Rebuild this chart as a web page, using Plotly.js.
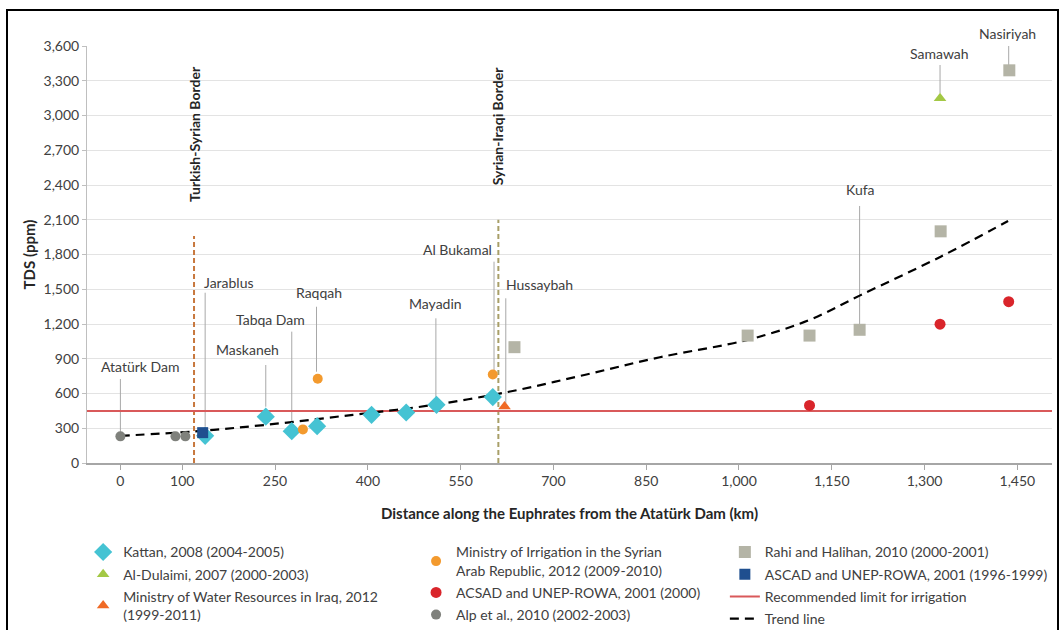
<!DOCTYPE html>
<html>
<head>
<meta charset="utf-8">
<script src="https://cdn.plot.ly/plotly-3.0.1.min.js"></script>
<style>
  html, body { margin: 0; padding: 0; background: #fff; }
  #wrap { position: relative; width: 1059px; height: 630px; overflow: hidden; }
  #chart { position: absolute; left: 0; top: 0; width: 1059px; height: 630px; }
  #frame { position: absolute; left: 6px; top: 9px; width: 1049px; height: 700px; border: 2.5px solid #000; pointer-events: none; z-index: 10; }
</style>
</head>
<body>
<div id="wrap"><div id="chart"></div><div id="frame"></div></div>
<script>
// ---- Data (distance along the Euphrates in km, TDS in ppm) ----
const kattanKm   = [137, 235, 277, 318, 406, 462, 511, 602];
const kattanTds  = [235, 400, 275, 318, 416, 436, 502, 569];

const dulaimiKm  = [1325];
const dulaimiTds = [3150];

const iraqMinKm  = [621];
const iraqMinTds = [488];

const syriaMinKm  = [295, 319, 602];
const syriaMinTds = [290, 727, 764];

const acsadKm  = [1114, 1325, 1436];
const acsadTds = [497, 1198, 1393];

const alpKm  = [0, 89, 105];
const alpTds = [230, 230, 230];

const rahiKm  = [637, 1014, 1114, 1195, 1326, 1437];
const rahiTds = [1000, 1100, 1100, 1150, 2000, 3390];

const ascadKm  = [133];
const ascadTds = [262];

const irrigationLimit = 450;

const trendKm  = [0, 117, 236, 376, 500, 630, 750, 872, 1014, 1114, 1195, 1326, 1435];
const trendTds = [235, 272, 330, 416, 497, 617, 760, 913, 1063, 1235, 1445, 1781, 2089];

const borderNames = ['Turkish-Syrian Border', 'Syrian-Iraqi Border'];
const borderKm    = [119, 611];
const borderTop   = [1960, 2100];

const xTickVals = [0, 100, 250, 400, 550, 700, 850, 1000, 1150, 1300, 1450];

// place labels with leader lines (label text, leader km, leader top/bottom TDS)
const placeNames  = ['Atatürk Dam', 'Jarablus', 'Maskaneh', 'Tabqa Dam', 'Raqqah', 'Mayadin', 'Al Bukamal', 'Hussaybah', 'Kufa', 'Samawah', 'Nasiriyah'];
const placeKm     = [0, 137, 235, 277, 317, 510, 604, 623, 1195, 1325, 1436];
const leaderTop   = [725, 1470, 846, 1134, 1349, 1249, 1738, 1422, 2219, 3436, 3630];
const leaderBot   = [259, 313, 486, 285, 788, 518, 803, 515, 1191, 3192, 3436];
// label text centres (layout positions; last one sits above the plot in paper units)
const labelX = [33, 176, 205, 243, 321, 509, 545, 677, 1196, 1324, 1434];
const labelY = [833, 1558, 977, 1236, 1476, 1373, 1839, 1537, 2362, 3537, 1.03];
const labelYRef = ['y', 'y', 'y', 'y', 'y', 'y', 'y', 'y', 'y', 'y', 'paper'];

// ---- Styling ----
const FONT = 'Lato, "Open Sans", sans-serif';
const TXT = '#404040';
const xRange = [-54, 1506];

const traces = [];

// border lines
borderKm.forEach((k, i) => {
  traces.push({
    x: [k, k], y: [0, borderTop[i]], mode: 'lines', showlegend: false, hoverinfo: 'skip',
    line: { color: i === 0 ? '#c8783e' : '#a89f68', width: 2, dash: '5px,3px' }
  });
});

// recommended limit
traces.push({
  x: xRange, y: [irrigationLimit, irrigationLimit], mode: 'lines',
  name: 'Recommended limit for irrigation', legend: 'legend3', legendrank: 3, legendgroup: 'g11',
  line: { color: '#d9595a', width: 2 }
});

// trend line
traces.push({
  x: trendKm, y: trendTds, mode: 'lines', line: { color: '#000', width: 2.2, dash: '9px,6px', shape: 'spline' },
  name: 'Trend line', legend: 'legend3', legendrank: 4, legendgroup: 'g12'
});

function pts(x, y, name, symbol, color, size, legend, rank) {
  return { x, y, mode: 'markers', type: 'scatter', name, legend, legendrank: rank, legendgroup: name,
    marker: { symbol, color, size, line: { width: 0 } }, cliponaxis: false };
}

traces.push(pts(alpKm, alpTds, 'Alp et al., 2010 (2002-2003)', 'circle', '#7f817c', 10, 'legend2', 3));
traces.push(pts(kattanKm, kattanTds, 'Kattan, 2008 (2004-2005)', 'diamond', '#45c3d3', 14, 'legend', 1));
traces.push(pts(ascadKm, ascadTds, 'ASCAD and UNEP-ROWA, 2001 (1996-1999)', 'square', '#1f4f8f', 11, 'legend3', 2));
traces.push(pts(syriaMinKm, syriaMinTds, 'Ministry of Irrigation in the Syrian<br>Arab Republic, 2012 (2009-2010)', 'circle', '#f39a2e', 10, 'legend2', 1));
traces.push(pts(iraqMinKm, iraqMinTds, 'Ministry of Water Resources in Iraq, 2012<br>(1999-2011)', 'triangle-up', '#f06a25', 11, 'legend', 3));
traces.push(pts(rahiKm, rahiTds, 'Rahi and Halihan, 2010 (2000-2001)', 'square', '#b4b4a6', 12, 'legend3', 1));
traces.push(pts(acsadKm, acsadTds, 'ACSAD and UNEP-ROWA, 2001 (2000)', 'circle', '#d9252b', 11, 'legend2', 2));
traces.push(pts(dulaimiKm, dulaimiTds, 'Al-Dulaimi, 2007 (2000-2003)', 'triangle-up', '#a3c845', 11, 'legend', 2));

// annotations and leader lines
const annotations = [];
const shapes = [];
placeNames.forEach((n, i) => {
  annotations.push({ x: labelX[i], y: labelY[i], xref: 'x', yref: labelYRef[i], text: n, showarrow: false,
    font: { family: FONT, size: 14, color: TXT }, xanchor: 'center', yanchor: 'middle' });
  shapes.push({ type: 'line', xref: 'x', yref: 'y', x0: placeKm[i], x1: placeKm[i], y0: leaderBot[i], y1: leaderTop[i],
    line: { color: '#a8a8a8', width: 1 }, layer: 'between' });
});
borderNames.forEach((n, i) => {
  annotations.push({ x: borderKm[i], y: (borderTop[i] + 3600) / 2 + 60, xref: 'x', yref: 'y', text: n, showarrow: false,
    textangle: -90, font: { family: FONT, size: 14, color: '#262626', weight: 'bold' } });
});

const legendBase = { orientation: 'v', xanchor: 'left', yanchor: 'top', y: -0.176, bgcolor: 'rgba(0,0,0,0)',
  font: { family: FONT, size: 14, color: TXT }, traceorder: 'grouped', tracegroupgap: 1, itemclick: false };

const layout = {
  width: 1059, height: 630,
  margin: { l: 87, r: 7, t: 46, b: 167, pad: 0, autoexpand: false },
  paper_bgcolor: '#fff', plot_bgcolor: '#fff',
  font: { family: FONT, color: TXT },
  showlegend: true,
  xaxis: {
    range: xRange, tickvals: xTickVals, tickformat: ',', showgrid: false, zeroline: false,
    showline: true, linecolor: '#a6a6a6', linewidth: 1.5, ticks: 'outside', ticklen: 5, tickcolor: '#a6a6a6',
    tickfont: { family: FONT, size: 14, color: TXT }, automargin: false,
    title: { text: 'Distance along the Euphrates from the Atatürk Dam (km)', standoff: 20,
      font: { family: FONT, size: 15, color: '#262626', weight: 'bold' } }
  },
  yaxis: {
    range: [0, 3600], dtick: 300, tickformat: ',', showgrid: true, gridcolor: '#e3e3e3', zeroline: false,
    showline: true, linecolor: '#bfbfbf', linewidth: 1, ticks: 'outside', ticklen: 4, tickcolor: '#bfbfbf',
    tickfont: { family: FONT, size: 14, color: TXT }, automargin: false,
    title: { text: 'TDS (ppm)', standoff: 4, font: { family: FONT, size: 15, color: '#262626', weight: 'bold' } }
  },
  legend:  Object.assign({}, legendBase, { x: -0.004 }),
  legend2: Object.assign({}, legendBase, { x: 0.341 }),
  legend3: Object.assign({}, legendBase, { x: 0.661 }),
  annotations, shapes
};

Plotly.newPlot('chart', traces, layout, { displayModeBar: false, staticPlot: true });
</script>
</body>
</html>
